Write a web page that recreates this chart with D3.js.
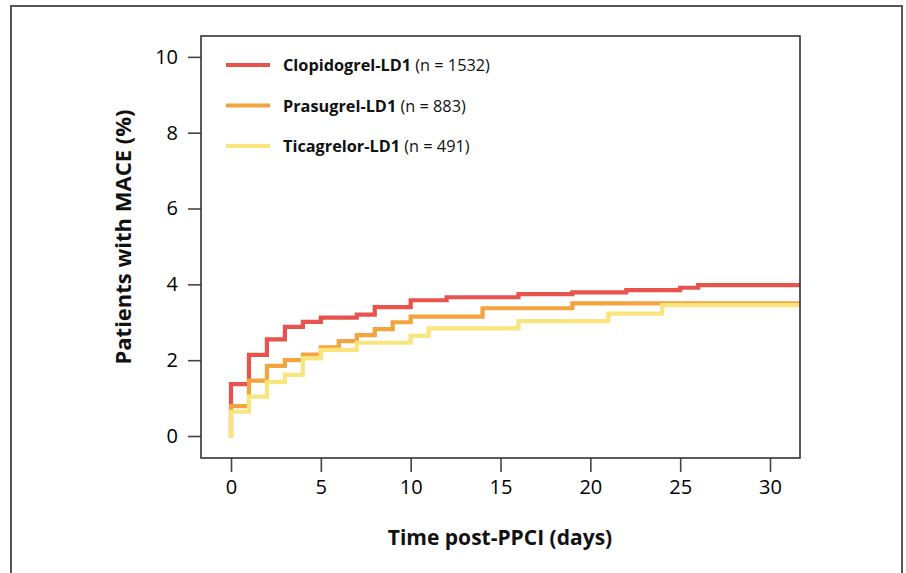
<!DOCTYPE html>
<html>
<head>
<meta charset="utf-8">
<script src="https://cdn.jsdelivr.net/npm/d3@7"></script>
<style>
  body { margin: 0; background: #fff; }
  svg { display: block; font-family: "Open Sans", sans-serif; }
  .axis text { font-family: "Open Sans", sans-serif; font-size: 20px; fill: #000; }
  .axis line { stroke: #444; stroke-width: 1.6; }
</style>
</head>
<body>
<svg id="chart" width="906" height="573"></svg>
<script>
// step curves: [day, cumulative MACE %]
const clopidogrel = [[0, 0], [0, 1.37], [1, 2.14], [2, 2.55], [3, 2.88], [4, 3.01], [5, 3.12], [7, 3.2],
  [8, 3.4], [10, 3.58], [12, 3.66], [16, 3.74], [19, 3.79], [22, 3.85], [25, 3.91], [26, 3.98]];
const prasugrel = [[0, 0], [0, 0.79], [1, 1.46], [2, 1.85], [3, 2.0], [4, 2.15], [5, 2.34], [6, 2.5],
  [7, 2.66], [8, 2.82], [9, 3.0], [10, 3.15], [14, 3.37], [19, 3.5]];
const ticagrelor = [[0, 0], [0, 0.64], [1, 1.04], [2, 1.43], [3, 1.61], [4, 2.05], [5, 2.27], [7, 2.46],
  [10, 2.64], [11, 2.84], [16, 3.03], [21, 3.23], [24, 3.45]];

const seriesNames = ['Clopidogrel-LD1', 'Prasugrel-LD1', 'Ticagrelor-LD1'];
const seriesN = ['(n = 1532)', '(n = 883)', '(n = 491)'];
const xTicks = [0, 5, 10, 15, 20, 25, 30];
const yTicks = [0, 2, 4, 6, 8, 10];

const palette = ['#e9534e', '#f4a43e', '#f8e57d'];
const box = { left: 201, top: 36, right: 800, bottom: 458 };
const svg = d3.select('#chart');

// outer frame
svg.append('rect')
  .attr('x', 11).attr('y', 6)
  .attr('width', 891).attr('height', 600)
  .attr('fill', 'none').attr('stroke', '#555').attr('stroke-width', 2);

const x = d3.scaleLinear().domain([-1.67, 31.67]).range([box.left, box.right]);
const y = d3.scaleLinear().domain([-0.58, 10.55]).range([box.bottom, box.top]);

svg.append('clipPath').attr('id', 'plotClip')
  .append('rect')
  .attr('x', box.left).attr('y', box.top)
  .attr('width', box.right - box.left).attr('height', box.bottom - box.top);

const stepLine = d3.line()
  .x(d => x(d[0]))
  .y(d => y(d[1]))
  .curve(d3.curveStepAfter);

const curves = [clopidogrel, prasugrel, ticagrelor];
const g = svg.append('g').attr('clip-path', 'url(#plotClip)');
curves.forEach((c, i) => {
  const pts = c.concat([[x.domain()[1], c[c.length - 1][1]]]);
  g.append('path')
    .datum(pts)
    .attr('d', stepLine)
    .attr('fill', 'none')
    .attr('stroke', palette[i])
    .attr('stroke-width', 4.2)
    .attr('stroke-linecap', 'square')
    .attr('stroke-linejoin', 'miter');
});

// axes
const xAxis = d3.axisBottom(x).tickValues(xTicks).tickSize(14).tickPadding(8);
const yAxis = d3.axisLeft(y).tickValues(yTicks).tickSize(13).tickPadding(10);

svg.append('g').attr('class', 'axis')
  .attr('transform', `translate(0,${box.bottom})`)
  .call(xAxis)
  .call(s => s.select('.domain').remove());

svg.append('g').attr('class', 'axis')
  .attr('transform', `translate(${box.left},0)`)
  .call(yAxis)
  .call(s => s.select('.domain').remove());

svg.append('rect')
  .attr('x', box.left).attr('y', box.top)
  .attr('width', box.right - box.left).attr('height', box.bottom - box.top)
  .attr('fill', 'none').attr('stroke', '#333').attr('stroke-width', 1.6);

// axis titles
svg.append('text')
  .attr('x', 500).attr('y', 545)
  .attr('text-anchor', 'middle')
  .attr('font-size', 21).attr('font-weight', 'bold').attr('fill', '#111')
  .text('Time post-PPCI (days)');

svg.append('text')
  .attr('transform', 'translate(131,237) rotate(-90)')
  .attr('text-anchor', 'middle')
  .attr('font-size', 22).attr('font-weight', 'bold').attr('fill', '#111')
  .text('Patients with MACE (%)');

// legend
const legend = svg.append('g').attr('transform', 'translate(226,65)');
seriesNames.forEach((name, i) => {
  const row = legend.append('g').attr('transform', `translate(0,${i * 40.5})`);
  row.append('line')
    .attr('x1', 0).attr('x2', 44)
    .attr('stroke', palette[i]).attr('stroke-width', 4.2);
  const t = row.append('text')
    .attr('x', 57).attr('y', 6)
    .attr('font-size', 16.3).attr('fill', '#111');
  t.append('tspan').attr('font-weight', 'bold').text(name);
  t.append('tspan').text(' ' + seriesN[i]);
});
</script>
</body>
</html>
